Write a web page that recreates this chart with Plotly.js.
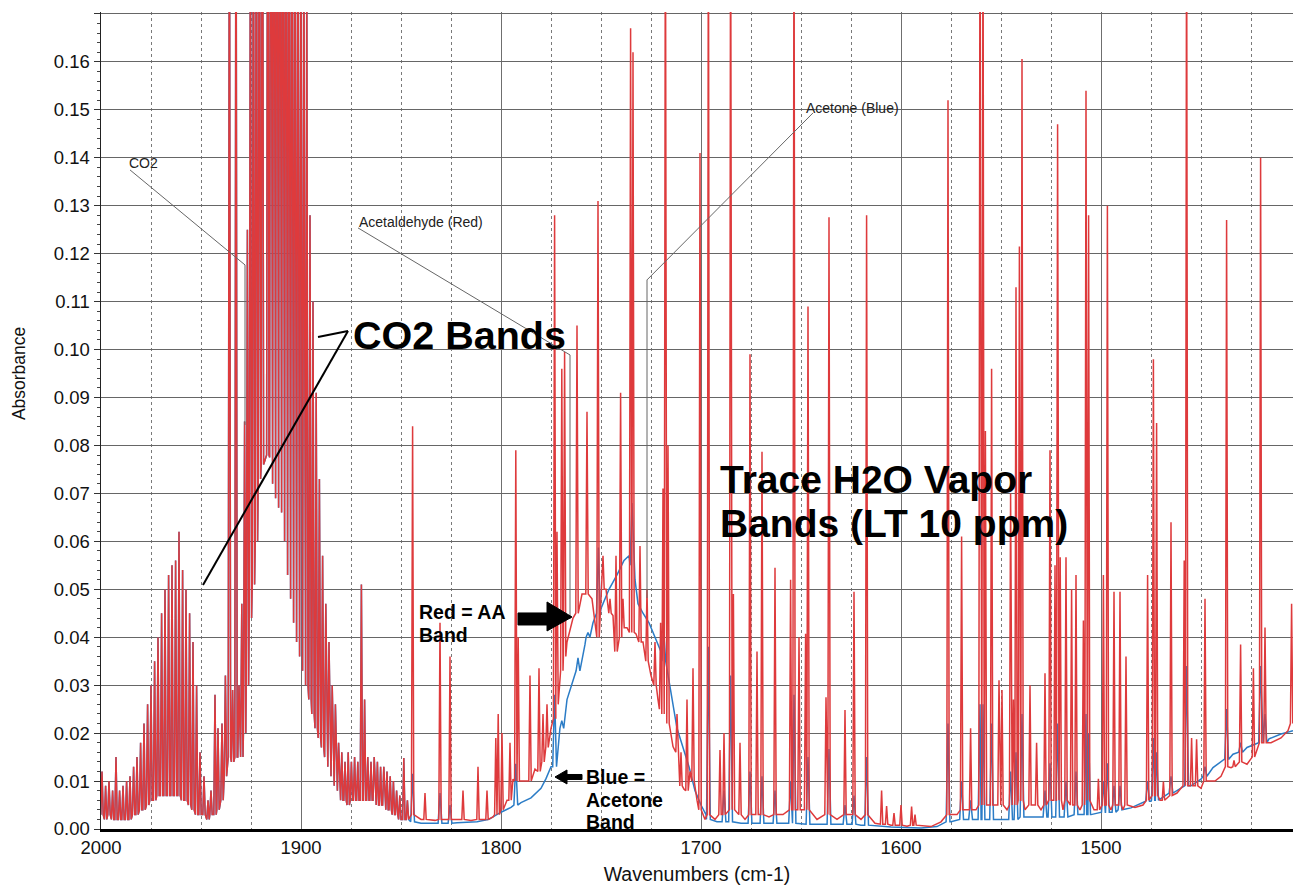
<!DOCTYPE html>
<html>
<head>
<meta charset="utf-8">
<script src="https://cdn.plot.ly/plotly-3.0.1.min.js"></script>
<style>html,body{margin:0;padding:0;background:#fff;}#chart{width:1293px;height:886px;}</style>
</head>
<body>
<div id="chart"></div>
<script>
// ---- Data (wavenumber cm-1, absorbance) ----
// CO2 rotational lines common to both spectra: [wavenumber, peak, foot]
const co2Lines = [
 [1999.5,0.012,0.003],[1997.7,0.009,0.002],[1996.0,0.010,0.003],[1994.2,0.008,0.002],[1992.5,0.015,0.002],
 [1990.7,0.008,0.002],[1989.0,0.009,0.002],[1987.2,0.010,0.002],[1985.5,0.011,0.002],[1983.7,0.013,0.003],
 [1982.0,0.015,0.003],[1980.2,0.018,0.004],[1978.5,0.022,0.004],[1976.7,0.026,0.005],[1975.0,0.030,0.006],
 [1973.2,0.035,0.006],[1971.5,0.040,0.007],[1969.7,0.045,0.007],[1968.0,0.050,0.007],[1966.2,0.053,0.007],
 [1964.5,0.055,0.007],[1962.7,0.056,0.007],[1961.0,0.062,0.007],[1959.2,0.054,0.006],[1957.5,0.050,0.006],
 [1955.7,0.045,0.005],[1954.0,0.039,0.004],[1952.2,0.030,0.003],[1950.5,0.016,0.003],
 [1948.5,0.011,0.003],[1946.5,0.006,0.002],[1945.0,0.008,0.003],[1943.0,0.028,0.003],[1941.5,0.021,0.004],
 [1939.5,0.022,0.006],[1937.8,0.032,0.011],[1935.8,0.22,0.015],[1934.2,0.029,0.014],[1932.5,0.22,0.015],
 [1931.0,0.030,0.015],[1929.6,0.047,0.015],[1928.2,0.085,0.020],[1926.8,0.125,0.030],[1925.3,0.20,0.044],
 [1923.8,0.22,0.051],[1922.3,0.23,0.060],[1920.8,0.24,0.073],[1919.3,0.25,0.076],[1916.6,0.25,0.078],
 [1915.1,0.26,0.0775],[1913.6,0.26,0.072],[1912.1,0.26,0.069],[1910.6,0.26,0.067],[1909.1,0.25,0.066],
 [1907.6,0.25,0.060],[1906.1,0.24,0.053],[1904.6,0.23,0.048],[1903.1,0.22,0.043],[1901.6,0.21,0.039],
 [1900.1,0.20,0.036],[1898.6,0.19,0.033],[1897.1,0.18,0.030],[1895.5,0.128,0.027],[1894.0,0.110,0.024],
 [1892.4,0.091,0.021],[1890.8,0.073,0.019],[1889.2,0.057,0.017],[1887.6,0.047,0.015],[1886.0,0.039,0.013],
 [1884.4,0.030,0.011],[1882.8,0.026,0.009],[1881.2,0.018,0.008],[1879.6,0.016,0.006],[1878.0,0.014,0.006],
 [1876.4,0.016,0.005],[1874.8,0.014,0.006],[1873.2,0.015,0.006],[1871.6,0.014,0.006],[1869.8,0.051,0.006],
 [1868.2,0.027,0.006],[1866.6,0.015,0.006],[1865.0,0.014,0.006],[1863.4,0.015,0.006],[1861.8,0.014,0.005],
 [1860.2,0.013,0.005],[1858.6,0.013,0.005],[1857.0,0.012,0.004],[1855.4,0.011,0.004],[1853.8,0.010,0.003],
 [1852.2,0.008,0.003],[1850.6,0.007,0.002],[1848.6,0.0148,0.002],[1846.8,0.006,0.002]
];

// Acetaldehyde (red) spectrum: sharp lines [wavenumber, peak, foot]
const redLines = [
 [1844.2,0.084,0.003],[1838.0,0.0075,0.002],[1830.5,0.043,0.002],[1825.5,0.036,0.002],[1819.0,0.008,0.002],
 [1811.5,0.013,0.002],[1807.0,0.008,0.002],[1802.6,0.019,0.003],[1801.4,0.024,0.003],[1799.5,0.020,0.004],
 [1795.5,0.018,0.006],[1792.6,0.079,0.010],[1791.4,0.040,0.010],[1785.5,0.032,0.010],[1781.0,0.0335,0.012],
 [1779.0,0.024,0.014],[1777.0,0.026,0.017],[1773.2,0.128,0.023],[1772.0,0.062,0.026],[1769.6,0.096,0.033],
 [1768.2,0.0995,0.036],[1762.0,0.105,0.045],[1757.0,0.087,0.049],[1751.5,0.131,0.040],[1749.0,0.057,0.050],
 [1745.5,0.048,0.045],[1742.5,0.057,0.037],[1740.2,0.091,0.040],[1739.0,0.048,0.042],[1735.2,0.167,0.041],
 [1734.0,0.162,0.041],[1730.5,0.059,0.039],[1727.0,0.050,0.035],[1723.0,0.039,0.030],[1720.2,0.043,0.025],
 [1719.0,0.071,0.024],[1717.8,0.20,0.024],[1716.5,0.080,0.022],[1712.0,0.024,0.016],[1710.0,0.016,0.009],
 [1707.0,0.027,0.008],[1704.0,0.0335,0.010],[1700.5,0.141,0.004],[1696.3,0.20,0.003],[1690.5,0.0165,0.003],
 [1688.5,0.020,0.003],[1685.2,0.20,0.004],[1683.8,0.049,0.004],[1680.5,0.018,0.003],[1675.5,0.099,0.003],
 [1672.0,0.037,0.003],[1669.5,0.0787,0.003],[1663.0,0.0545,0.003],[1655.2,0.052,0.004],[1653.5,0.20,0.004],
 [1651.0,0.040,0.004],[1647.7,0.0407,0.004],[1646.5,0.109,0.004],[1637.5,0.0275,0.003],[1636.0,0.1276,0.003],
 [1628.0,0.0248,0.003],[1623.5,0.0495,0.003],[1617.2,0.128,0.003],[1609.7,0.008,0.001],[1607.2,0.0048,0.001],
 [1603.5,0.0033,0.0008],[1600.0,0.005,0.0008],[1594.7,0.0047,0.0008],[1593.0,0.003,0.0008],[1576.5,0.152,0.003],
 [1569.7,0.061,0.004],[1565.2,0.021,0.004],[1560.5,0.20,0.005],[1559.0,0.20,0.005],[1557.8,0.083,0.005],
 [1554.7,0.096,0.005],[1551.0,0.031,0.005],[1549.5,0.029,0.005],[1545.2,0.070,0.005],[1543.8,0.027,0.005],
 [1542.5,0.113,0.005],[1540.8,0.1215,0.006],[1539.5,0.1606,0.006],[1535.5,0.030,0.005],[1532.2,0.018,0.005],
 [1528.0,0.0325,0.005],[1525.5,0.079,0.006],[1523.0,0.055,0.006],[1521.7,0.147,0.006],[1520.4,0.0567,0.006],
 [1517.5,0.0567,0.006],[1514.7,0.050,0.005],[1512.5,0.053,0.005],[1508.8,0.0435,0.005],[1507.5,0.154,0.006],
 [1506.2,0.128,0.006],[1501.3,0.0105,0.004],[1498.8,0.053,0.005],[1496.8,0.130,0.005],[1493.5,0.0495,0.005],
 [1490.5,0.0495,0.005],[1487.5,0.036,0.005],[1476.7,0.053,0.006],[1473.8,0.098,0.007],[1472.2,0.0847,0.007],
 [1468.8,0.0099,0.006],[1465.0,0.064,0.007],[1458.4,0.056,0.009],[1457.2,0.20,0.009],[1454.7,0.019,0.009],
 [1452.2,0.0187,0.009],[1448.0,0.048,0.010],[1437.2,0.127,0.013],[1433.5,0.0143,0.013],[1430.2,0.0385,0.014],
 [1423.8,0.0335,0.015],[1420.2,0.140,0.018],[1418.0,0.042,0.018],[1404.7,0.047,0.022]
];

// Acetaldehyde (red) broad band and baseline: [wavenumber, absorbance]
const redBand = [
 [1846,0.002],[1840,0.002],[1833,0.0018],[1822,0.002],[1815,0.0018],[1809,0.002],[1804,0.0025],
 [1800.5,0.0044],[1797,0.006],[1794,0.0104],[1789,0.010],[1787,0.010],[1783,0.0125],[1775,0.021],
 [1771,0.030],[1767,0.039],[1764,0.044],[1759.5,0.049],[1754.5,0.048],[1747.5,0.050],[1744,0.0445],
 [1741.5,0.036],[1737,0.042],[1732.5,0.0407],[1729,0.039],[1725,0.032],[1721.5,0.027],[1714,0.0172],
 [1711,0.0090],[1708.5,0.0083],[1705.5,0.012],[1702,0.006],[1698,0.002],[1693,0.002],[1678,0.002],
 [1666,0.0025],[1659,0.003],[1642,0.002],[1632,0.002],[1620,0.002],[1613,0.0012],[1605,0.0008],
 [1597,0.0006],[1585,0.0005],[1580,0.0015],[1572,0.003],[1562.5,0.004],[1547,0.004],[1538,0.004],
 [1530,0.004],[1519,0.004],[1510.5,0.004],[1503.5,0.004],[1495,0.004],[1489,0.004],[1483,0.0045],
 [1479,0.005],[1470.5,0.006],[1462,0.0075],[1450,0.0085],[1443,0.010],[1440,0.011],[1435,0.0128],
 [1427,0.0135],[1415,0.018],[1410,0.019],[1406.5,0.0205],[1404,0.021]
];

// Acetone (blue) spectrum: sharp lines [wavenumber, peak, foot]
const blueLines = [
 [1844.2,0.0115,0.0015],[1830.5,0.0075,0.0012],[1825.5,0.005,0.0012],[1792.6,0.0136,0.005],[1773.2,0.028,0.013],
 [1769.6,0.0226,0.021],[1761.5,0.0357,0.033],[1756.5,0.041,0.040],[1751.3,0.0587,0.045],[1734.5,0.068,0.055],
 [1718.6,0.041,0.035],[1696.3,0.038,0.002],[1688.5,0.008,0.0015],[1685.2,0.032,0.0015],[1675.5,0.012,0.0012],
 [1669.5,0.011,0.0012],[1663.0,0.008,0.0012],[1655.2,0.010,0.0012],[1653.5,0.028,0.0012],[1646.5,0.015,0.001],
 [1636.0,0.0167,0.001],[1628.0,0.005,0.001],[1623.5,0.007,0.001],[1617.2,0.015,0.0008],[1576.5,0.022,0.0015],
 [1569.7,0.010,0.002],[1565.2,0.006,0.002],[1560.5,0.026,0.002],[1559.0,0.026,0.002],[1554.7,0.022,0.002],
 [1545.2,0.012,0.002],[1542.5,0.016,0.002],[1539.5,0.024,0.0025],[1528.0,0.008,0.0025],[1525.5,0.0137,0.0025],
 [1521.7,0.022,0.0025],[1517.5,0.010,0.0025],[1512.5,0.012,0.003],[1507.5,0.024,0.003],[1506.2,0.020,0.003],
 [1498.8,0.010,0.0035],[1496.8,0.0137,0.0035],[1493.5,0.009,0.0035],[1490.5,0.009,0.004],[1476.7,0.010,0.0058],
 [1473.8,0.019,0.006],[1472.2,0.016,0.006],[1465.0,0.011,0.0075],[1457.2,0.034,0.009],[1448.0,0.013,0.011],
 [1437.2,0.025,0.0145],[1430.2,0.018,0.016],[1420.2,0.034,0.018],[1418.0,0.024,0.018]
];

// Acetone (blue) broad band and baseline: [wavenumber, absorbance]
const blueBand = [
 [1846,0.0015],[1840,0.0012],[1832,0.0012],[1822,0.0013],[1812,0.0015],[1806,0.002],[1800,0.0035],
 [1795,0.0045],[1790,0.0055],[1785,0.0065],[1780,0.0085],[1777.5,0.0105],[1775,0.013],[1772.5,0.017],
 [1770,0.022],[1767,0.027],[1764,0.031],[1761,0.034],[1758,0.0385],[1754,0.043],[1750,0.046],
 [1746,0.050],[1742,0.053],[1738.5,0.056],[1736,0.057],[1733,0.052],[1731.5,0.047],[1729,0.045],
 [1726,0.043],[1723,0.040],[1720,0.037],[1717.5,0.033],[1715,0.028],[1712,0.021],[1709,0.017],
 [1706,0.013],[1703,0.008],[1700,0.005],[1697.5,0.003],[1692,0.0015],[1680,0.0012],[1660,0.0012],
 [1640,0.001],[1620,0.0008],[1605,0.0004],[1590,0.0002],[1582,0.0005],[1575,0.0015],[1565,0.002],
 [1550,0.002],[1535,0.0025],[1520,0.0025],[1505,0.003],[1495,0.0035],[1485,0.0044],[1475,0.0058],
 [1465,0.0075],[1455,0.009],[1450,0.0104],[1444,0.0128],[1438.5,0.0145],[1434,0.0156],[1427,0.017],
 [1422,0.018],[1416,0.0188],[1410,0.0198],[1404,0.0205]
];

const xTickVals = [2000, 1900, 1800, 1700, 1600, 1500];
const yTickVals = [0,0.01,0.02,0.03,0.04,0.05,0.06,0.07,0.08,0.09,0.10,0.11,0.12,0.13,0.14,0.15,0.16,0.17];
const yTickText = ['0.00','0.01','0.02','0.03','0.04','0.05','0.06','0.07','0.08','0.09','0.10','0.11','0.12','0.13','0.14','0.15','0.16',''];

// ---- build polylines: each line drawn foot -> peak -> foot (half width in cm-1) ----
function build(groups, band) {
  const pts = [];
  const all = [];
  groups.forEach(([lines, hw]) => {
    lines.forEach(([w, t, f]) => { pts.push([w + hw, f], [w, t], [w - hw, f]); all.push(w); });
  });
  band.forEach(([w, a]) => {
    if (!all.some(c => Math.abs(c - w) < 1.1)) pts.push([w, a]);
  });
  pts.sort((a, b) => b[0] - a[0]);
  return { x: pts.map(p => p[0]), y: pts.map(p => p[1]) };
}
const blue = build([[co2Lines, 0.6], [blueLines, 0.95]], blueBand);
const red = build([[co2Lines, 0.6], [redLines, 0.6]], redBand);

const FONT = 'Liberation Sans, Arial, Helvetica, sans-serif';
const traces = [
  { type: 'scatter', mode: 'lines', name: 'Acetone', x: blue.x, y: blue.y,
    line: { color: '#2b7cc6', width: 1.5 }, hoverinfo: 'skip' },
  { type: 'scatter', mode: 'lines', name: 'Acetaldehyde', x: red.x, y: red.y,
    line: { color: '#de3a3c', width: 1.5 }, hoverinfo: 'skip' }
];

function ann(text, x, y, size, bold, color, extra) {
  return Object.assign({
    text: bold ? '<b>' + text + '</b>' : text, x: x, y: y, xref: 'x', yref: 'y',
    xanchor: 'left', yanchor: 'middle', showarrow: false,
    font: { family: FONT, size: size, color: color || '#000' }
  }, extra || {});
}

const layout = {
  width: 1293, height: 886,
  margin: { l: 101, r: 0, t: 12, b: 57 },
  paper_bgcolor: '#fff', plot_bgcolor: '#fff',
  showlegend: false,
  xaxis: {
    range: [2000, 1404], tickmode: 'array', tickvals: xTickVals,
    showgrid: true, gridcolor: '#6f6f6f', gridwidth: 1,
    minor: { tickmode: 'linear', tick0: 0, dtick: 25, showgrid: true, griddash: 'dot', gridcolor: '#7a7a7a', gridwidth: 1 },
    showline: true, linecolor: '#000', linewidth: 3, zeroline: false,
    ticks: '', tickfont: { family: FONT, size: 18.5, color: '#111' },
    title: { text: 'Wavenumbers (cm-1)', font: { family: FONT, size: 19.5, color: '#111' }, standoff: 11 }
  },
  yaxis: {
    range: [0, 0.1704], tickmode: 'array', tickvals: yTickVals, ticktext: yTickText,
    showgrid: true, gridcolor: '#666', gridwidth: 1,
    minor: { tickmode: 'linear', tick0: 0, dtick: 0.002, ticks: 'outside', ticklen: 3, tickcolor: '#444', showgrid: false },
    ticks: 'outside', ticklen: 6, tickcolor: '#333',
    showline: true, linecolor: '#222', linewidth: 1.5, zeroline: false,
    tickfont: { family: FONT, size: 18.5, color: '#111' }
  },
  annotations: [
    { text: 'Absorbance', xref: 'paper', yref: 'paper', x: -0.0688, y: 0.558, textangle: -90,
      xanchor: 'center', yanchor: 'middle', showarrow: false, font: { family: FONT, size: 17.5, color: '#111' } },
    ann('CO2', 1986.8, 0.1389, 14, false, '#222'),
    ann('Acetaldehyde (Red)', 1872, 0.1266, 14, false, '#222'),
    ann('Acetone (Blue)', 1648.5, 0.1504, 14, false, '#222'),
    ann('CO2 Bands', 1875, 0.1030, 39.5, true),
    ann('Trace H2O Vapor', 1691.5, 0.0728, 39, true),
    ann('Bands (LT 10 ppm)', 1691.5, 0.0638, 39, true),
    ann('Red = AA', 1842, 0.0453, 19.5, true),
    ann('Band', 1842, 0.0405, 19.5, true),
    ann('Blue =', 1758.5, 0.01085, 19.5, true),
    ann('Acetone', 1758.5, 0.00605, 19.5, true),
    ann('Band', 1758.5, 0.0015, 19.5, true)
  ],
  shapes: [
    { type: 'path', xref: 'x', yref: 'y', path: 'M1985.5,0.13746 L1928,0.11765 L1928,0.08427', line: { color: '#666', width: 1 } },
    { type: 'path', xref: 'x', yref: 'y', path: 'M1871.5,0.12537 L1765.5,0.09887 L1765.5,0.0438', line: { color: '#666', width: 1 } },
    { type: 'path', xref: 'x', yref: 'y', path: 'M1644,0.14935 L1727,0.11452 L1727,0.04819', line: { color: '#666', width: 1 } },
    { type: 'path', xref: 'x', yref: 'y', path: 'M1876.5,0.10388 L1949,0.0509', line: { color: '#000', width: 2 } },
    { type: 'path', xref: 'x', yref: 'y', path: 'M1876.5,0.10388 L1891.5,0.10263', line: { color: '#000', width: 2 } },
    { type: 'path', xref: 'x', yref: 'y', fillcolor: '#000', line: { color: '#000', width: 1 },
      path: 'M1791.5,0.04506 L1777,0.04506 L1777,0.04735 L1764.5,0.04422 L1777,0.0413 L1777,0.04255 L1791.5,0.04255 Z' },
    { type: 'path', xref: 'x', yref: 'y', fillcolor: '#000', line: { color: '#000', width: 1 },
      path: 'M1773,0.01085 L1767,0.01231 L1767,0.01137 L1759.5,0.01137 L1759.5,0.01032 L1767,0.01032 L1767,0.00939 Z' }
  ]
};

Plotly.newPlot('chart', traces, layout, { displayModeBar: false, staticPlot: true });
</script>
</body>
</html>
